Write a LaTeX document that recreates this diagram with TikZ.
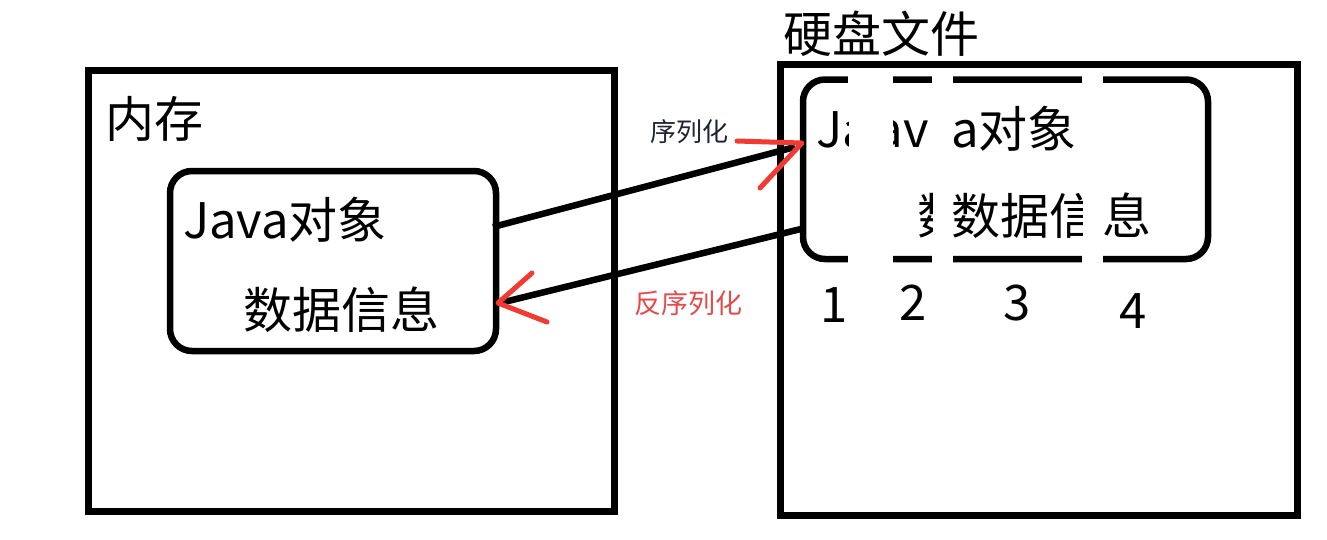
\documentclass[tikz,border=0pt]{standalone}
\usepackage{fontspec}
\setmainfont{Noto Sans CJK SC}
\definecolor{inkred}{HTML}{F03A32}
\definecolor{labdark}{HTML}{1E2430}
\definecolor{labred}{HTML}{E84A4A}
\begin{document}
\begin{tikzpicture}[x=1pt,y=-1pt,
  frame/.style={draw=black,line width=7pt,inner sep=0pt,outer sep=0pt},
  objbox/.style={draw=black,line width=6.5pt,rounded corners=22pt,inner sep=0pt,outer sep=0pt},
  big/.style={inner sep=0pt,outer sep=0pt,font=\fontsize{49}{49}\selectfont},
  small/.style={inner sep=0pt,outer sep=0pt,font=\fontsize{26}{26}\selectfont},
  link/.style={draw=black,line width=6.5pt},
  redhead/.style={draw=inkred,line width=5pt,line cap=round,line join=round},
  gapstrip/.style={fill=white,draw=none}]
\useasboundingbox (0,0) rectangle (1327,539);
\fill[white] (0,0) rectangle (1327,539);

% outer frames
\node[frame,minimum width=526pt,minimum height=441pt] (mem) at (351,290.5) {};
\node[frame,minimum width=517.5pt,minimum height=451pt] (disk) at (1038.75,289.5) {};
\node[big,anchor=base west] (memlabel) at (105,137) {内存};
\node[big,anchor=base west] (disklabel) at (783,52) {硬盘文件};

% left object
\node[objbox,minimum width=326pt,minimum height=180pt] (obj) at (333,261) {};
\node[big,anchor=base west] (objl1) at (183,238) {Java对象};
\node[big,anchor=base west] (objl2) at (243,328) {数据信息};

% right object (split into pieces)
\node[objbox,minimum width=405pt,minimum height=179.5pt] (fobj) at (1005.5,169.25) {};
\fill[gapstrip] (848,72) rectangle (893,268);
\fill[gapstrip] (932,72) rectangle (953,268);
\fill[gapstrip] (1082,72) rectangle (1103,268);
\begin{scope}
  \clip (790,90) rectangle (848,250);
  \node[big,anchor=base west] (p1a) at (816,147) {Ja};
\end{scope}
\begin{scope}
  \clip (893,90) rectangle (932,250);
  \node[big,anchor=base east] (p2a) at (929,147) {av};
  \node[big,anchor=base west] (p2b) at (917,234) {数};
\end{scope}
\begin{scope}
  \clip (953,90) rectangle (1082,250);
  \node[big,anchor=base west] (p3a) at (951,147) {a对象};
  \node[big,anchor=base west] (p3b) at (951,234) {数据信};
\end{scope}
\begin{scope}
  \clip (1103,90) rectangle (1200,250);
  \node[big,anchor=base west] (p4b) at (1102,234) {息};
\end{scope}

% part numbers
\node[big,anchor=base] (n1) at (834,322) {1};
\node[big,anchor=base] (n2) at (913,320) {2};
\node[big,anchor=base] (n3) at (1017,320) {3};
\node[big,anchor=base] (n4) at (1133,328) {4};

% serialize arrow
\coordinate (s0) at (493,227);
\coordinate (s1) at (795,147);
\coordinate (sa) at (737,141);
\coordinate (st) at (802,143);
\coordinate (sb) at (760,188);
\draw[link] (s0) -- (s1);
\draw[redhead] (sa) -- (st) -- (sb);
\node[small,anchor=base west,text=labdark] (serlab) at (650,141) {序列化};

% deserialize arrow
\coordinate (d0) at (805,228);
\coordinate (d1) at (500,303);
\coordinate (da) at (532,273);
\coordinate (dt) at (498,303);
\coordinate (db) at (547,322);
\draw[link] (d0) -- (d1);
\draw[redhead] (da) -- (dt) -- (db);
\node[small,anchor=base west,text=labred,font=\fontsize{27}{27}\selectfont] (deslab) at (634,313) {反序列化};
\end{tikzpicture}
\end{document}
